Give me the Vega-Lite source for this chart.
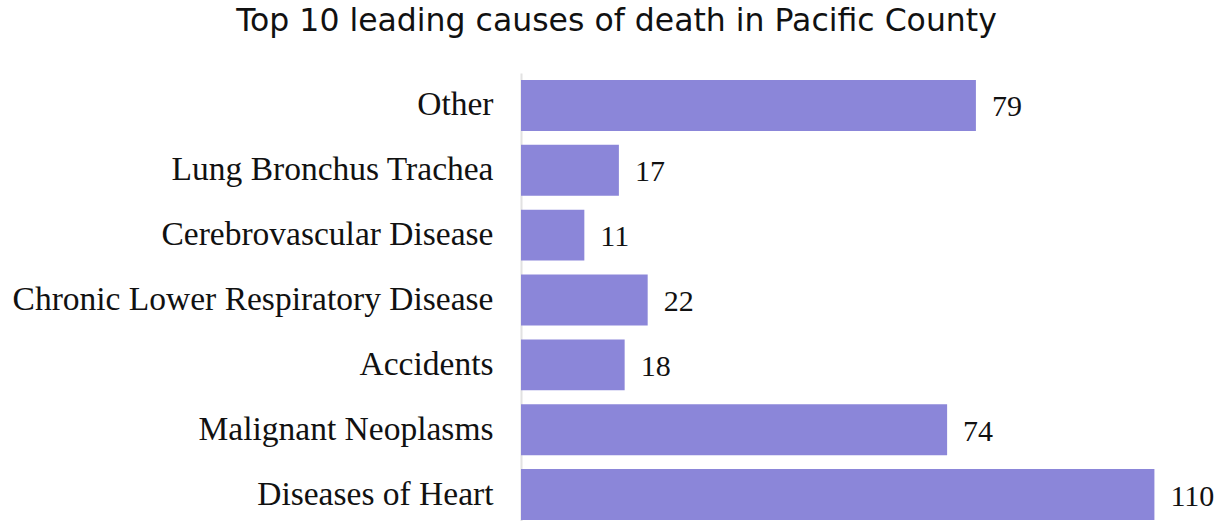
{
  "$schema": "https://vega.github.io/schema/vega-lite/v6.json",
  "width": 691,
  "height": 454,
  "padding": {"left": 521, "top": 73, "right": 6, "bottom": 0},
  "autosize": {"type": "none"},
  "background": "white",
  "title": {
    "text": "Top 10 leading causes of death in Pacific County",
    "font": "DejaVu Sans",
    "fontSize": 31.5,
    "fontWeight": "normal",
    "color": "#111111",
    "anchor": "middle",
    "frame": "group",
    "dx": -250,
    "offset": 36
  },
  "data": {
    "values": [
      {"cause": "Other", "deaths": 79},
      {"cause": "Lung Bronchus Trachea", "deaths": 17},
      {"cause": "Cerebrovascular Disease", "deaths": 11},
      {"cause": "Chronic Lower Respiratory Disease", "deaths": 22},
      {"cause": "Accidents", "deaths": 18},
      {"cause": "Malignant Neoplasms", "deaths": 74},
      {"cause": "Diseases of Heart", "deaths": 110}
    ]
  },
  "encoding": {
    "y": {
      "field": "cause",
      "type": "nominal",
      "sort": null,
      "scale": {"paddingInner": 0.215, "paddingOuter": 0.108},
      "axis": {
        "title": null,
        "ticks": false,
        "labelFont": "Liberation Serif",
        "labelFontSize": 33.5,
        "labelColor": "#111111",
        "labelPadding": 28,
        "domainColor": "#e2e2e2",
        "domainWidth": 2,
        "labelLimit": 600
      }
    },
    "x": {
      "field": "deaths",
      "type": "quantitative",
      "scale": {"domain": [0, 120], "nice": false},
      "axis": null
    }
  },
  "layer": [
    {"mark": {"type": "bar", "color": "#8b86d9"}},
    {
      "mark": {"type": "text", "align": "left", "baseline": "middle", "dx": 16, "dy": 2, "font": "Liberation Serif", "fontSize": 30, "color": "#111111"},
      "encoding": {"text": {"field": "deaths", "type": "quantitative"}}
    }
  ],
  "config": {"view": {"stroke": null}}
}
